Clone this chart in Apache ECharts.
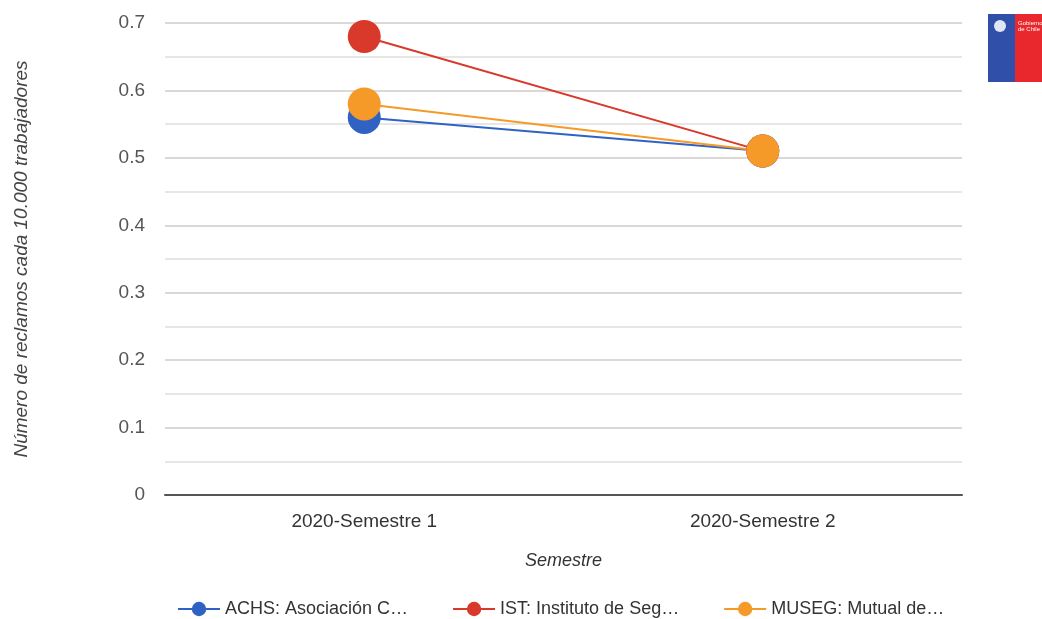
<!DOCTYPE html>
<html><head><meta charset="utf-8">
<script src="https://cdn.jsdelivr.net/npm/echarts@6/dist/echarts.min.js"></script>
<style>html,body{margin:0;padding:0;background:#fff}#c{width:1042px;height:619px}</style>
</head><body><div id="c"></div>
<script>
const categories = ['2020-Semestre 1', '2020-Semestre 2'];
const seriesNames = ['ACHS: Asociación C…', 'IST: Instituto de Seg…', 'MUSEG: Mutual de…'];
const achs = [0.56, 0.51];
const ist = [0.68, 0.51];
const museg = [0.58, 0.51];
const colors = ['#3062c4', '#d8392b', '#f59a28'];

const chart = echarts.init(document.getElementById('c'));
const font = 'Liberation Sans, Arial, sans-serif';
function mk(name, data, color) {
  return {
    name, type: 'line', data, symbol: 'circle', symbolSize: 33,
    itemStyle: { color }, lineStyle: { color, width: 2 }, z: 2
  };
}
chart.setOption({
  animation: false,
  textStyle: { fontFamily: font },
  grid: { left: 165, right: 80, top: 23, bottom: 124 },
  xAxis: {
    type: 'category', data: categories, boundaryGap: true,
    name: 'Semestre', nameLocation: 'middle', nameGap: 57,
    nameTextStyle: { fontStyle: 'italic', fontSize: 18, color: '#333', fontFamily: font },
    axisLine: { lineStyle: { color: '#555', width: 2 } },
    axisTick: { show: false },
    axisLabel: { fontSize: 19, color: '#333', margin: 17, fontFamily: font }
  },
  yAxis: {
    type: 'value', min: 0, max: 0.7, interval: 0.1,
    name: 'Número de reclamos cada 10.000 trabajadores', nameLocation: 'middle', nameGap: 134,
    nameTextStyle: { fontStyle: 'italic', fontSize: 19, color: '#444', fontFamily: font },
    axisLine: { show: false }, axisTick: { show: false },
    axisLabel: { fontSize: 19, color: '#555', margin: 20, fontFamily: font },
    splitLine: { lineStyle: { color: '#dcd8d8', width: 2 } },
    minorTick: { show: false, splitNumber: 2 },
    minorSplitLine: { show: true, lineStyle: { color: '#e8e5e5', width: 2 } }
  },
  legend: {
    top: 595, left: 172, itemGap: 44, itemWidth: 42, itemHeight: 18,
    textStyle: { fontSize: 18, color: '#333', fontFamily: font },
    data: seriesNames
  },
  series: [
    mk(seriesNames[0], achs, colors[0]),
    mk(seriesNames[1], ist, colors[1]),
    mk(seriesNames[2], museg, colors[2])
  ],
  graphic: [
    { type: 'rect', shape: { x: 988, y: 14, width: 27, height: 68 }, style: { fill: '#2f4fa8' } },
    { type: 'rect', shape: { x: 1015, y: 14, width: 27, height: 68 }, style: { fill: '#e8282c' } },
    { type: 'circle', shape: { cx: 1000, cy: 26, r: 6 }, style: { fill: '#dfe6f5' } },
    { type: 'text', style: { x: 1018, y: 20, text: 'Gobierno\nde Chile', fill: '#fff', fontSize: 6, lineHeight: 6, fontFamily: font } }
  ]
});
</script></body></html>
